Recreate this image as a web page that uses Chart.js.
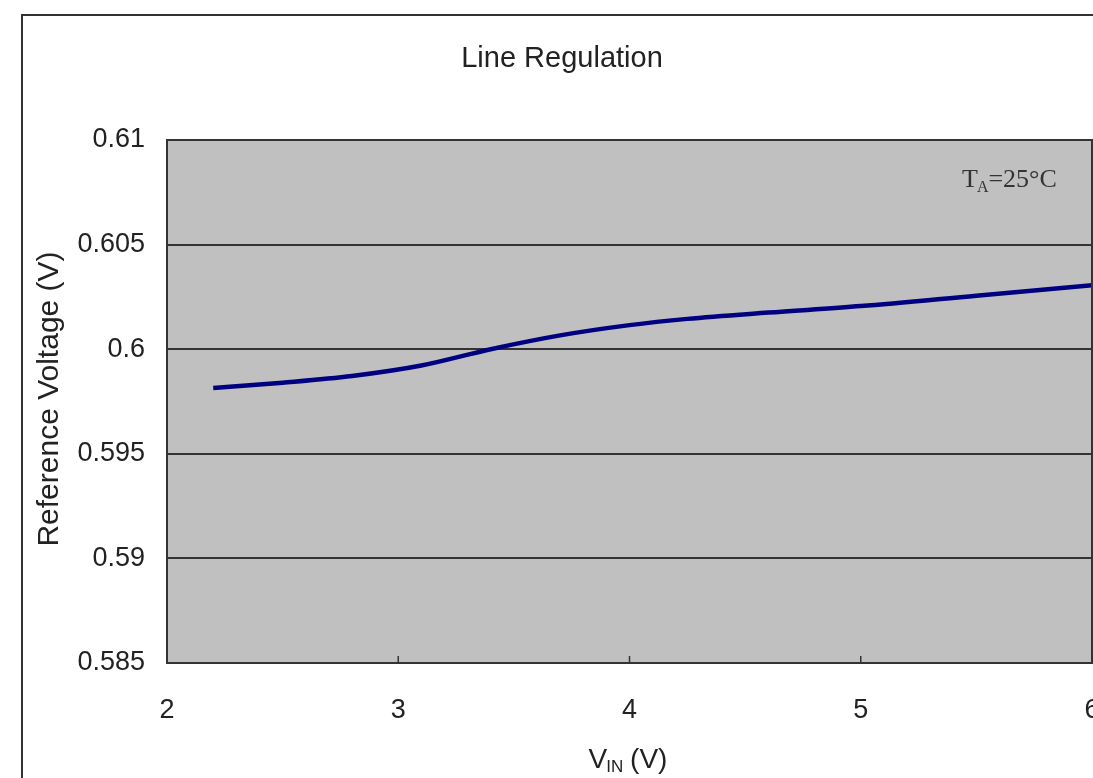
<!DOCTYPE html>
<html><head><meta charset="utf-8">
<script src="https://cdn.jsdelivr.net/npm/chart.js@4/dist/chart.umd.min.js"></script>
<style>html,body{margin:0;padding:0;background:#fff;overflow:hidden}#wrap{width:1093px;height:778px;position:relative}canvas{display:block}</style>
</head><body><div id="wrap"><canvas id="c" width="1093" height="778"></canvas></div>
<script>
const titleText = "Line Regulation";
const yAxisTitle = "Reference Voltage (V)";
const xTitleMain = "V";
const xTitleSub = "IN";
const xTitleRest = " (V)";
const noteMain = "T";
const noteSub = "A";
const noteRest = "=25°C";

const vin  = [2.2, 2.5, 2.8, 3.1, 3.4, 3.7, 4.0, 4.25, 4.6, 5.0, 5.5, 6.0];
const vref = [0.59814, 0.59840, 0.59872, 0.59922, 0.60000, 0.60066, 0.60115, 0.60145, 0.60175, 0.60206, 0.60256, 0.60306];

const yTicks = [0.585, 0.59, 0.595, 0.6, 0.605, 0.61];
const xTicks = [2, 3, 4, 5, 6];

const FONT = "'Liberation Sans', Arial, sans-serif";
const SERIF = "'Liberation Serif', 'Times New Roman', serif";

const decor = {
  id: 'decor',
  beforeDraw(chart) {
    const {ctx, chartArea: a} = chart;
    ctx.save();
    ctx.fillStyle = '#ffffff';
    ctx.fillRect(0, 0, chart.width, chart.height);
    ctx.strokeStyle = '#333';
    ctx.lineWidth = 2;
    ctx.strokeRect(22, 15, 2000, 2000);
    ctx.fillStyle = '#c0c0c0';
    ctx.fillRect(a.left, a.top, a.right - a.left, a.bottom - a.top);
    ctx.restore();
  },
  afterDraw(chart) {
    const {ctx, chartArea: a, scales} = chart;
    ctx.save();
    ctx.strokeStyle = '#333';
    ctx.lineWidth = 2;
    ctx.strokeRect(a.left, a.top, a.right - a.left, a.bottom - a.top);
    ctx.lineWidth = 1.5;
    xTicks.forEach(v => {
      const px = scales.x.getPixelForValue(v);
      ctx.beginPath(); ctx.moveTo(px, a.bottom); ctx.lineTo(px, a.bottom - 7); ctx.stroke();
    });
    ctx.fillStyle = '#222';
    ctx.textAlign = 'center';
    ctx.textBaseline = 'alphabetic';
    ctx.font = "29px " + FONT;
    ctx.fillText(titleText, 562, 67);
    ctx.save();
    ctx.translate(58, 399);
    ctx.rotate(-Math.PI / 2);
    ctx.font = "30px " + FONT;
    ctx.fillText(yAxisTitle, 0, 0);
    ctx.restore();
    ctx.textAlign = 'left';
    const big = "28px " + FONT, small = "17px " + FONT;
    ctx.font = big; const w1 = ctx.measureText(xTitleMain).width;
    ctx.font = small; const w2 = ctx.measureText(xTitleSub).width;
    ctx.font = big; const w3 = ctx.measureText(xTitleRest).width;
    let x0 = 629 - (w1 + w2 + w3) / 2;
    const by = 768;
    ctx.font = big; ctx.fillText(xTitleMain, x0, by);
    ctx.font = small; ctx.fillText(xTitleSub, x0 + w1 - 1, by + 4);
    ctx.font = big; ctx.fillText(xTitleRest, x0 + w1 + w2 - 2, by);
    const nb = "26px " + SERIF, ns = "16px " + SERIF;
    let nx = 962, ny = 187;
    ctx.fillStyle = '#333';
    ctx.font = nb; ctx.fillText(noteMain, nx, ny); nx += ctx.measureText(noteMain).width - 1;
    ctx.font = ns; ctx.fillText(noteSub, nx, ny + 5); nx += ctx.measureText(noteSub).width;
    ctx.font = nb; ctx.fillText(noteRest, nx, ny);
    ctx.restore();
  }
};

new Chart(document.getElementById('c'), {
  type: 'line',
  data: {
    datasets: [{
      data: vin.map((x, i) => ({x, y: vref[i]})),
      borderColor: '#000080',
      borderWidth: 4.5,
      pointRadius: 0,
      fill: false,
      cubicInterpolationMode: 'monotone'
    }]
  },
  options: {
    responsive: false,
    animation: false,
    devicePixelRatio: 1,
    layout: {padding: {top: 140, left: 0, right: 1, bottom: 0}},
    plugins: {legend: {display: false}, tooltip: {enabled: false}, title: {display: false}},
    scales: {
      x: {
        type: 'linear', min: 2, max: 6,
        afterBuildTicks: s => { s.ticks = xTicks.map(v => ({value: v})); },
        afterFit: s => { s.height = 115; s.paddingLeft = 0; s.paddingRight = 0; },
        grid: {display: false, drawTicks: false},
        border: {display: false},
        ticks: {color: '#222', font: {family: FONT, size: 27}, padding: 31, maxRotation: 0, autoSkip: false}
      },
      y: {
        min: 0.585, max: 0.61,
        afterBuildTicks: s => { s.ticks = yTicks.map(v => ({value: v})); },
        afterFit: s => { s.width = 167; s.paddingTop = 0; s.paddingBottom = 0; },
        grid: {color: '#333', lineWidth: 2, drawTicks: false},
        border: {display: false},
        ticks: {color: '#222', font: {family: FONT, size: 27}, padding: 22,
          callback: v => String(Number(v.toFixed(3)))}
      }
    }
  },
  plugins: [decor]
});
</script>
</body></html>
